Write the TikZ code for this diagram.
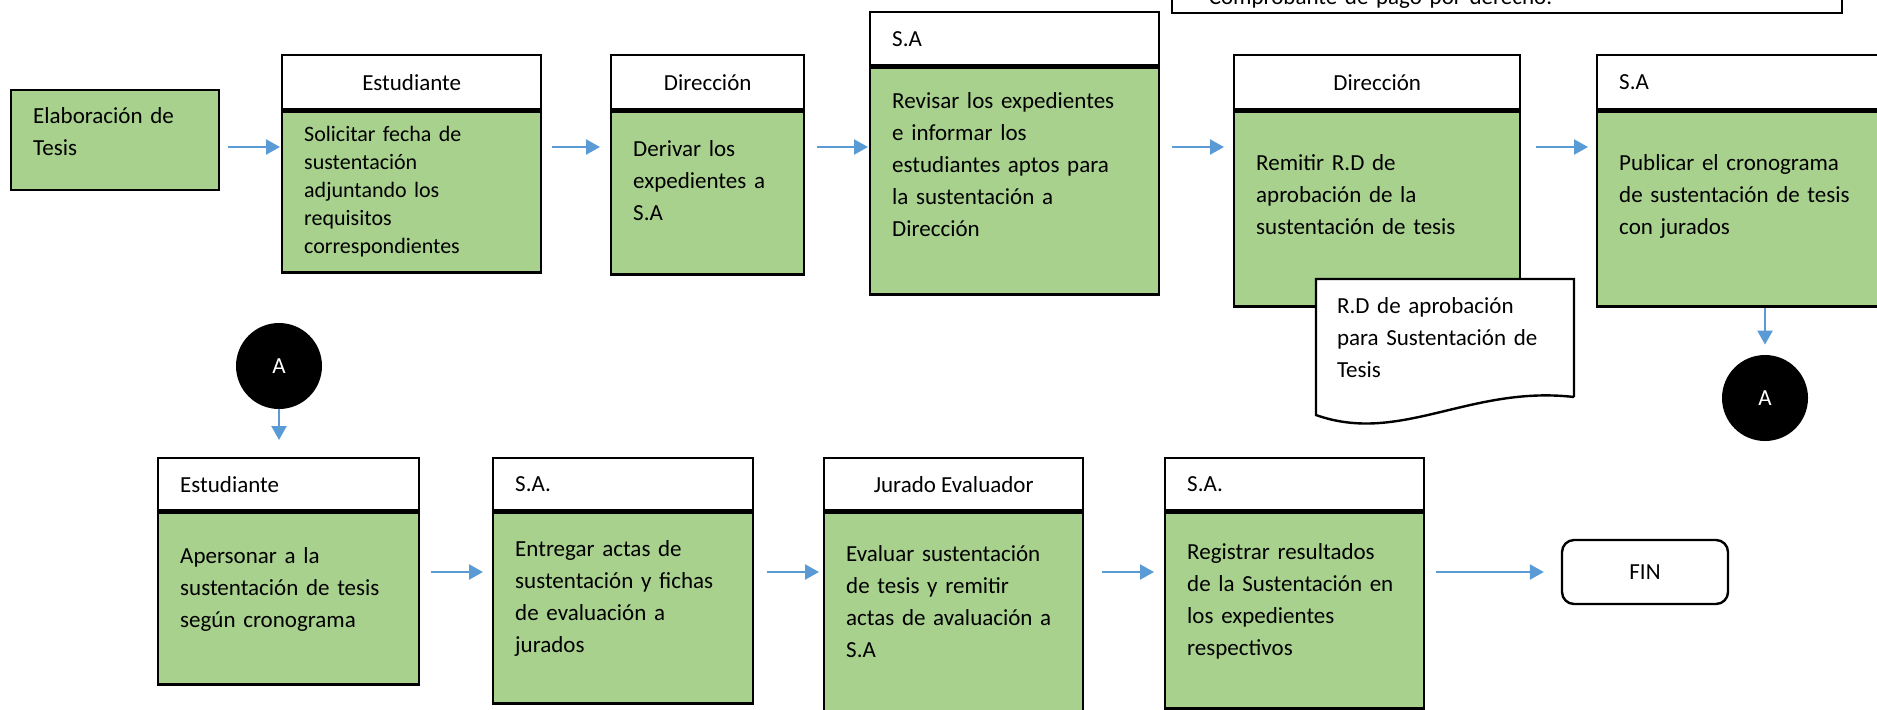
\documentclass[tikz,border=0pt]{standalone}
\usepackage{fontspec}
\setmainfont{Carlito}
\usepackage{tikz}
\usetikzlibrary{positioning,calc,arrows.meta}
\usepackage{xcolor}
\definecolor{procgreen}{RGB}{169,209,142}
\definecolor{flowblue}{RGB}{91,155,213}

\begin{document}
\begin{tikzpicture}[
    x=0.5pt, y=-0.5pt,
    node distance=0pt,
    head/.style={rectangle, draw, fill=white, line width=1.2pt, minimum height=27pt, inner xsep=11pt, font=\fontsize{11.5}{16}\selectfont},
    body/.style={rectangle, draw, fill=procgreen, line width=1.2pt, align=left, inner xsep=11pt, font=\fontsize{11.5}{16}\selectfont},
    lift/.style={execute at end node={\rule[-#1]{0pt}{0pt}}},
    conn/.style={circle, fill=black, minimum size=43pt, inner sep=0pt, text=white, font=\fontsize{11.5}{14}\selectfont},
    flow/.style={-{Triangle[length=7pt,width=7.5pt]}, line width=1.2pt, flowblue, shorten <=5pt, shorten >=3pt}
]
    \useasboundingbox (0,0) rectangle (1877,709);
    \clip (0,0) rectangle (1877,709);

    % first row
    \node[body, lift=8.5pt, anchor=north west, text width=82pt, minimum height=50pt] (elab) at (10,89) {Elaboración de\\Tesis};

    \node[head, anchor=north west, minimum width=129.5pt] (est1h) at (281,54) {Estudiante};
    \node[body, below=0pt of est1h, text width=107.5pt, minimum height=80.5pt, font=\fontsize{11}{14}\selectfont] (est1b) {Solicitar fecha de\\sustentación\\adjuntando los\\requisitos\\correspondientes};

    \node[head, anchor=north west, minimum width=96.5pt] (dir1h) at (610,54) {Dirección};
    \node[body, lift=13pt, below=0pt of dir1h, text width=74.5pt, minimum height=81.5pt] (dir1b) {Derivar los\\expedientes a\\S.A};

    \node[head, anchor=north west, text width=122.5pt, align=left, minimum height=26.5pt] (sa1h) at (869,11) {S.A};
    \node[body, lift=17pt, below=0pt of sa1h, text width=122.5pt, minimum height=113.5pt] (sa1b) {Revisar los expedientes\\e informar los\\estudiantes aptos para\\la sustentación a\\Dirección};

    \node[head, anchor=north west, minimum width=143pt] (dir2h) at (1233,54) {Dirección};
    \node[body, lift=14.5pt, below=0pt of dir2h, text width=121pt, minimum height=97.5pt] (dir2b) {Remitir R.D de\\aprobación de la\\sustentación de tesis};

    \node[head, anchor=north west, text width=128pt, align=left] (sa2h) at (1596,54) {S.A};
    \node[body, lift=14.5pt, below=0pt of sa2h, text width=128pt, minimum height=97.5pt] (sa2b) {Publicar el cronograma\\de sustentación de tesis\\con jurados};

    % note cut by the top edge
    \node[draw, line width=0.8pt, anchor=south west, text width=298pt, inner xsep=18.5pt, inner ysep=1.5pt, text depth=3pt, align=left, font=\fontsize{11.5}{16}\selectfont] (comp) at (1171,14) {Comprobante de pago por derecho.};

    % document
    \node[anchor=north west, fill=white, outer sep=0pt, text width=108pt, inner xsep=10.5pt, minimum height=59pt, align=left, font=\fontsize{11.5}{16}\selectfont] (rd) at (1316,279) {R.D de aprobación\\para Sustentación de\\Tesis};
    \fill[white] (rd.south west) -- ($(rd.south west)+(0,18)$) .. controls +(84,30) and +(-104,-12) .. (rd.south east) -- cycle;
    \draw[line width=1.2pt] (rd.south east) -- (rd.north east) -- (rd.north west) -- ($(rd.south west)+(0,18)$) .. controls +(84,30) and +(-104,-12) .. (rd.south east);

    \node[conn] (a2) at (1765,398) {A};

    % second row
    \node[conn] (a1) at (279,366) {A};

    \node[head, anchor=north west, text width=108.5pt, align=left, minimum height=26pt] (est2h) at (157,457) {Estudiante};
    \node[body, lift=11.5pt, below=0pt of est2h, text width=108.5pt, minimum height=86pt] (est2b) {Apersonar a la\\sustentación de tesis\\según cronograma};

    \node[head, anchor=north west, text width=108pt, align=left, minimum height=26pt] (sa3h) at (492,457) {S.A.};
    \node[body, lift=11.5pt, below=0pt of sa3h, text width=108pt, minimum height=95.5pt] (sa3b) {Entregar actas de\\sustentación y fichas\\de evaluación a\\jurados};

    \node[head, anchor=north west, minimum width=129.5pt, minimum height=26pt] (jurh) at (823,457) {Jurado Evaluador};
    \node[body, lift=11.5pt, below=0pt of jurh, text width=107.5pt, minimum height=100.5pt] (jurb) {Evaluar sustentación\\de tesis y remitir\\actas de avaluación a\\S.A};

    \node[head, anchor=north west, text width=107.5pt, align=left, minimum height=26pt] (sa4h) at (1164,457) {S.A.};
    \node[body, lift=11.5pt, below=0pt of sa4h, text width=107.5pt, minimum height=98pt] (sa4b) {Registrar resultados\\de la Sustentación en\\los expedientes\\respectivos};

    \node[draw, rounded corners=6pt, line width=1.2pt, minimum width=83pt, minimum height=32pt, font=\fontsize{11.5}{14}\selectfont] (fin) at (1645,572) {FIN};

    % connectors
    \coordinate (r1) at (0,147);
    \draw[flow, shorten <=4pt, shorten >=0.5pt] (elab.east |- r1) -- (est1b.west |- r1);
    \draw[flow, shorten >=5pt] (est1b.east |- r1) -- (dir1b.west |- r1);
    \draw[flow, shorten <=6pt, shorten >=0.5pt] (dir1b.east |- r1) -- (sa1b.west |- r1);
    \draw[flow, shorten <=6pt, shorten >=4.5pt] (sa1b.east |- r1) -- (dir2b.west |- r1);
    \draw[flow, shorten <=7.5pt, shorten >=4pt] (dir2b.east |- r1) -- (sa2b.west |- r1);
    \draw[flow, shorten <=0pt, shorten >=5pt] (a2 |- sa2b.south) -- (a2.north);

    \draw[flow, shorten <=0pt, shorten >=8.5pt] (a1.south) -- (a1 |- est2h.north);
    \draw[flow, shorten <=5.5pt, shorten >=4.5pt] (est2b.east |- fin) -- (sa3b.west |- fin);
    \draw[flow, shorten <=6.5pt, shorten >=2pt] (sa3b.east |- fin) -- (jurb.west |- fin);
    \draw[flow, shorten <=9pt, shorten >=5pt] (jurb.east |- fin) -- (sa4b.west |- fin);
    \draw[flow, shorten <=5.5pt, shorten >=8.5pt] (sa4b.east |- fin) -- (fin.west);
\end{tikzpicture}
\end{document}
